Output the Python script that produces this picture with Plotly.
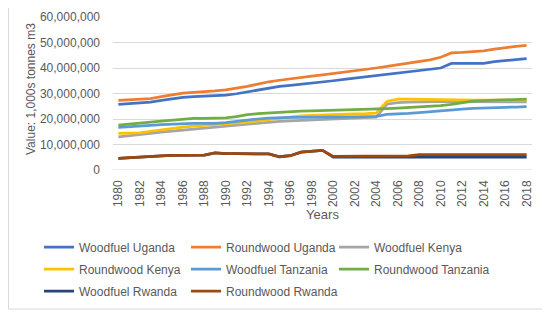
import plotly.graph_objects as go

years = list(range(1980, 2019))

# values in millions (1,000s tonnes m3)
woodfuel_uganda = [25.7, 26.1, 26.3, 26.6, 27.3, 28.0, 28.5, 28.8, 29.0, 29.1,
                   29.4, 29.9, 30.6, 31.3, 32.2, 32.8, 33.2, 33.6, 34.0, 34.4,
                   35.0, 35.5, 36.0, 36.5, 37.0, 37.4, 38.0, 38.5, 39.0, 39.5,
                   40.0, 41.8, 41.8, 41.8, 41.8, 42.5, 43.0, 43.3, 43.7]
roundwood_uganda = [27.3, 27.5, 27.6, 28.0, 28.8, 29.6, 30.1, 30.4, 30.6, 31.0,
                    31.4, 32.0, 32.8, 33.7, 34.6, 35.2, 35.8, 36.3, 36.8, 37.3,
                    37.8, 38.3, 38.8, 39.4, 40.0, 40.6, 41.3, 42.0, 42.5, 43.2,
                    44.2, 45.9, 46.1, 46.4, 46.7, 47.4, 48.0, 48.5, 48.9]
woodfuel_kenya = [13.0, 13.4, 13.9, 14.4, 14.9, 15.3, 15.7, 16.1, 16.5, 16.9,
                  17.3, 17.7, 18.1, 18.4, 18.8, 19.1, 19.3, 19.5, 19.7, 19.9,
                  20.0, 20.2, 20.3, 20.5, 20.7, 25.8, 26.4, 26.6, 26.7, 26.8,
                  27.0, 26.9, 26.8, 26.8, 26.8, 26.8, 26.8, 26.7, 26.7]
roundwood_kenya = [14.4, 14.4, 14.6, 15.2, 15.8, 16.3, 16.8, 17.2, 17.5, 17.8,
                   18.1, 18.4, 18.8, 19.3, 19.8, 20.3, 20.7, 21.2, 21.4, 21.6,
                   21.8, 21.9, 22.0, 22.1, 22.3, 26.9, 27.8, 27.8, 27.7, 27.6,
                   27.7, 27.6, 27.4, 27.4, 27.4, 27.4, 27.4, 27.4, 27.4]
woodfuel_tanzania = [16.7, 16.9, 17.2, 17.5, 17.8, 18.0, 18.2, 18.3, 18.3, 18.3,
                     18.6, 19.1, 19.6, 20.0, 20.3, 20.5, 20.6, 20.6, 20.6, 20.6,
                     20.6, 20.7, 20.8, 20.9, 21.0, 21.8, 21.9, 22.2, 22.5, 22.9,
                     23.3, 23.6, 23.9, 24.2, 24.4, 24.5, 24.6, 24.7, 24.9]
roundwood_tanzania = [17.6, 17.9, 18.3, 18.8, 19.2, 19.5, 19.9, 20.2, 20.2, 20.2,
                      20.4, 20.9, 21.7, 22.1, 22.4, 22.7, 23.0, 23.1, 23.2, 23.3,
                      23.4, 23.5, 23.7, 23.9, 24.0, 24.1, 24.3, 24.5, 24.7, 24.9,
                      25.2, 25.7, 26.4, 27.0, 27.2, 27.3, 27.4, 27.6, 27.8]
woodfuel_rwanda = [4.6, 4.9, 5.1, 5.2, 5.5, 5.7, 5.8, 5.8, 5.8, 6.7,
                   6.4, 6.4, 6.3, 6.3, 6.3, 5.2, 5.6, 7.0, 7.4, 7.7,
                   5.1, 5.1, 5.1, 5.1, 5.1, 5.1, 5.1, 5.1, 5.1, 5.1,
                   5.1, 5.1, 5.1, 5.1, 5.1, 5.1, 5.1, 5.1, 5.1]
roundwood_rwanda = [4.6, 4.9, 5.1, 5.2, 5.5, 5.7, 5.8, 5.8, 5.8, 6.7,
                    6.4, 6.4, 6.3, 6.3, 6.3, 5.2, 5.6, 7.0, 7.4, 7.7,
                    5.3, 5.4, 5.4, 5.4, 5.4, 5.5, 5.5, 5.5, 6.0, 6.0,
                    6.0, 6.0, 6.0, 6.0, 6.0, 6.0, 6.0, 6.0, 6.0]

series_names = ["Woodfuel Uganda", "Roundwood Uganda", "Woodfuel Kenya",
                "Roundwood Kenya", "Woodfuel Tanzania", "Roundwood Tanzania",
                "Woodfuel Rwanda", "Roundwood Rwanda"]
series_values = [woodfuel_uganda, roundwood_uganda, woodfuel_kenya,
                 roundwood_kenya, woodfuel_tanzania, roundwood_tanzania,
                 woodfuel_rwanda, roundwood_rwanda]
colors = ["#4472C4", "#ED7D31", "#A5A5A5", "#FFC000",
          "#5B9BD5", "#70AD47", "#264478", "#9E480E"]
# legend laid out as three columns (one vertical legend per column)
legend_cols = ["legend", "legend2", "legend3", "legend", "legend2", "legend3",
               "legend", "legend2"]

y_ticks = [0, 10e6, 20e6, 30e6, 40e6, 50e6, 60e6]
y_tick_text = ["0", "10,000,000", "20,000,000", "30,000,000",
               "40,000,000", "50,000,000", "60,000,000"]
x_ticks = years[::2]

TXT = "#595959"
FONT = "Liberation Sans, Arial, sans-serif"

# page body has an 8px margin; geometry below is in page pixels
OFF = 8
FW, FH = 550 - OFF, 313 - OFF
L, R, T, B = 113, 532, 17, 170
W, H = R - L, B - T


def px(x):
    return (x - L) / W


def py(y):
    return (B - y) / H


fig = go.Figure()
for i, (name, vals, col, lg) in enumerate(zip(series_names, series_values,
                                              colors, legend_cols)):
    fig.add_trace(go.Scatter(
        x=years, y=[v * 1e6 for v in vals], name=name, mode="lines",
        line=dict(color=col, width=2.75), hoverinfo="skip", legend=lg,
        legendgroup="g%d" % i))


def leg(xl, yc):
    return dict(orientation="v", x=px(xl), xanchor="left", y=py(yc),
                yanchor="middle", tracegroupgap=3,
                font=dict(size=12, color=TXT), bgcolor="rgba(0,0,0,0)")


fig.update_layout(
    width=FW, height=FH,
    margin=dict(l=L - OFF, r=FW - (R - OFF), t=T - OFF, b=FH - (B - OFF),
                autoexpand=False),
    paper_bgcolor="white", plot_bgcolor="white",
    font=dict(family=FONT, color=TXT, size=12),
    showlegend=True,
    legend=leg(39, 269), legend2=leg(186, 269), legend3=leg(334, 258),
    xaxis=dict(range=[1979.5, 2018.5], tickvals=x_ticks,
               ticktext=[str(y) for y in x_ticks], tickangle=-90,
               showgrid=False, zeroline=False, showline=False, ticks="",
               automargin=False, ticklabelstandoff=7,
               tickfont=dict(size=12, color=TXT),
               title=dict(text="Years", font=dict(size=13, color=TXT), standoff=1)),
    yaxis=dict(range=[0, 60e6], tickvals=y_ticks, ticktext=y_tick_text,
               showgrid=True, gridcolor="#D9D9D9", gridwidth=1,
               zeroline=False, showline=False, ticks="",
               automargin=False, ticklabelstandoff=12,
               tickfont=dict(size=12, color=TXT)),
    annotations=[dict(text="Value: 1,000s tonnes m3", xref="paper", yref="paper",
                      x=px(31), y=py(89), xanchor="center", yanchor="middle",
                      textangle=-90, showarrow=False,
                      font=dict(size=12, color=TXT))],
    shapes=[
        dict(type="line", xref="paper", yref="paper",
             x0=px(OFF + 0.5), x1=px(OFF + 0.5), y0=py(309), y1=py(OFF),
             line=dict(color="#D9D9D9", width=1)),
        dict(type="line", xref="paper", yref="paper",
             x0=px(OFF), x1=px(547), y0=py(309), y1=py(309),
             line=dict(color="#D9D9D9", width=1)),
        dict(type="line", xref="paper", yref="y",
             x0=0, x1=1, y0=0, y1=0, line=dict(color="#D9D9D9", width=1)),
    ],
)

fig.write_html("out.html")
